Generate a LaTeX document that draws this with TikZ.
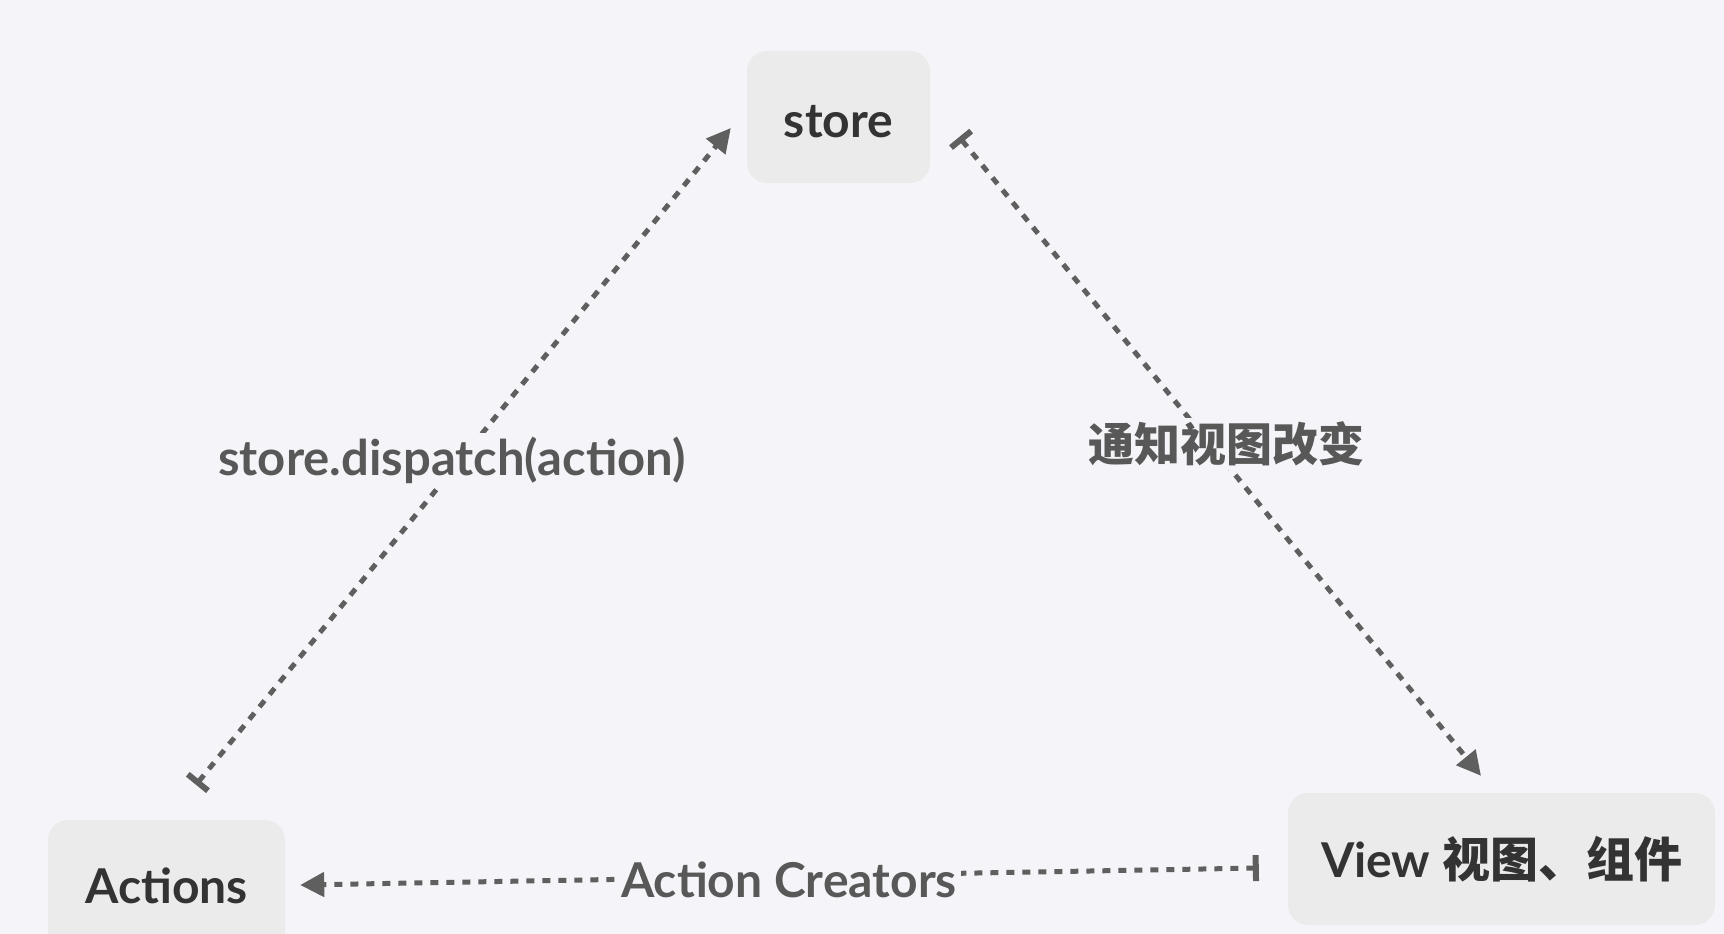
\documentclass[tikz,border=0pt]{standalone}
\usepackage{fontspec}
\setmainfont{Lato}
\newfontfamily\cjk{Noto Sans CJK SC}
\usetikzlibrary{arrows.meta}
\definecolor{bg}{HTML}{F5F5F9}
\definecolor{boxfill}{HTML}{EBEBEB}
\definecolor{linec}{HTML}{5F5F5F}
\definecolor{nodetext}{HTML}{333333}
\definecolor{labeltext}{HTML}{585858}
\tikzset{
  box/.style={rectangle, rounded corners=20pt, fill=boxfill, text=nodetext,
    font=\fontsize{48}{56}\selectfont\bfseries, inner sep=0pt},
  conn/.style={draw=linec, line width=5pt, dash pattern=on 8pt off 8pt,
    {Bar[width=26pt,line width=6pt]}-{Triangle[length=24pt,width=24pt]}},
  lbl/.style={fill=bg, text=labeltext, inner sep=4pt,
    font=\fontsize{49}{56}\selectfont\bfseries}
}
\begin{document}
\begin{tikzpicture}[x=1pt,y=-1pt]
\path[use as bounding box, fill=bg] (0,0) rectangle (1724,934);
\clip (0,0) rectangle (1724,934);
\node[box, minimum width=183pt, minimum height=132pt] (store) at (838.5,117) {\raisebox{-5pt}[\height][\depth]{store}};
\node[box, minimum width=237pt, minimum height=132pt] (actions) at (166.5,886) {Actions};
\node[box, minimum width=427pt, minimum height=132pt] (view) at (1501.5,859) {View {\cjk 视图、组件}};
\draw[conn] ([shift={(29.5,-35)}]actions.north) -- ([shift={(-16,11)}]store.west);
\draw[conn] ([shift={(29,20)}]store.east) -- ([shift={(-20.5,-17)}]view.north);
\draw[conn] ([shift={(-29,9)}]view.west) -- ([shift={(15,-1)}]actions.east);
\node[lbl] (l1) at (452,460) {store.dispatch(action)};
\node[lbl, font=\fontsize{46}{54}\selectfont\cjk\bfseries] (l2) at (1226,444) {通知视图改变};
\node[lbl, font=\fontsize{48}{56}\selectfont\bfseries] (l3) at (789,880) {Action Creators};
\end{tikzpicture}
\end{document}
